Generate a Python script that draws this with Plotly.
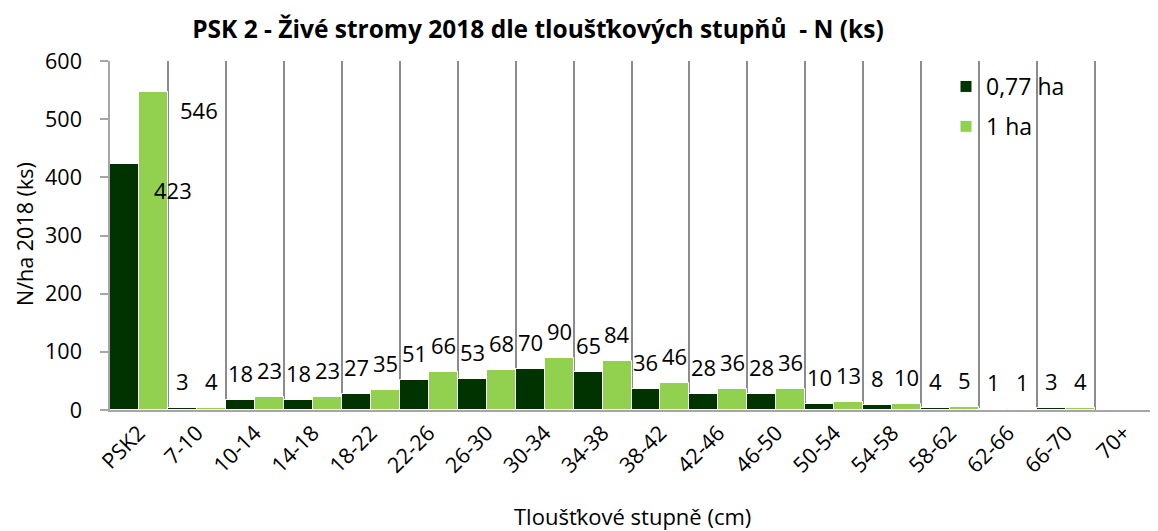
import plotly.graph_objects as go

categories = ["PSK2", "7-10", "10-14", "14-18", "18-22", "22-26", "26-30", "30-34",
              "34-38", "38-42", "42-46", "46-50", "50-54", "54-58", "58-62", "62-66",
              "66-70", "70+"]
n_077 = [423, 3, 18, 18, 27, 51, 53, 70, 65, 36, 28, 28, 10, 8, 4, 1, 3, None]
n_1ha = [546, 4, 23, 23, 35, 66, 68, 90, 84, 46, 36, 36, 13, 10, 5, 1, 4, None]
series_names = ["0,77 ha", "1 ha"]
series_colors = ["#003300", "#92d050"]

FONT = "Open Sans, Noto Sans, sans-serif"
OFF = 8                      # page body margin in the browser
W, H = 1158 - OFF, 531 - OFF
# plot area in page pixels: x 110..1153, y 61..410
PX0, PX1, PY0, PY1 = 110, 1153, 61, 410
ML, MR, MT, MB = PX0 - OFF, W - (PX1 - OFF), PY0 - OFF, H - (PY1 - OFF)


def xp(px):
    return (px - PX0) / (PX1 - PX0)


def yp(py):
    return (PY1 - py) / (PY1 - PY0)


fig = go.Figure()
for name, vals, col in zip(series_names, [n_077, n_1ha], series_colors):
    fig.add_trace(go.Bar(
        x=categories, y=vals, name=name, legendgroup=name,
        marker=dict(color=col, line=dict(color="white", width=1)),
        hoverinfo="x+y+name",
    ))

# data labels: centred above each bar (Excel-like), PSK2 labels pushed to the right
bar_offset = [-14.5, 14.5]
label_shift_default = 27
first_override = [(49, -26), (46, -18)]  # (xshift, yshift) for the PSK2 labels
annotations = []
for si, vals in enumerate([n_077, n_1ha]):
    for ci, (cat, v) in enumerate(zip(categories, vals)):
        if v is None:
            continue
        if ci == 0:
            xs = bar_offset[si] + first_override[si][0]
            ys = first_override[si][1]
        else:
            xs = bar_offset[si]
            ys = label_shift_default
        annotations.append(dict(
            x=cat, y=v, xref="x", yref="y", text=str(v), showarrow=False,
            xshift=xs, yshift=ys, xanchor="center", yanchor="middle",
            font=dict(family=FONT, size=22, color="#000000"),
        ))

# axis titles
annotations.append(dict(
    text="Tloušťkové stupně (cm)", xref="paper", yref="paper",
    x=xp(632), y=yp(516), xanchor="center", yanchor="middle", showarrow=False,
    font=dict(family=FONT, size=22, color="#000000"),
))
annotations.append(dict(
    text="N/ha 2018 (ks)", xref="paper", yref="paper", textangle=-90,
    x=xp(24), y=yp(234), xanchor="center", yanchor="middle", showarrow=False,
    font=dict(family=FONT, size=21.5, color="#000000"),
))

fig.update_layout(
    width=W, height=H,
    margin=dict(l=ML, r=MR, t=MT, b=MB, autoexpand=False),
    paper_bgcolor="white", plot_bgcolor="white",
    barmode="group", bargap=0, bargroupgap=0,
    font=dict(family=FONT, size=22, color="#000000"),
    title=dict(
        text="<b>PSK 2 - Živé stromy 2018 dle tloušťkových stupňů  - N (ks)</b>",
        x=(538 - OFF) / W, xanchor="center", xref="container",
        y=1 - (29 - OFF) / H, yanchor="middle", yref="container",
        font=dict(family=FONT, size=24.5, color="#000000"),
    ),
    legend=dict(
        x=xp(946), xanchor="left",
        y=yp(65), yanchor="top",
        bgcolor="rgba(255,255,255,0)", borderwidth=0,
        font=dict(family=FONT, size=23, color="#000000"),
        traceorder="grouped", tracegroupgap=7,
    ),
    annotations=annotations,
    shapes=[dict(
        type="rect", xref="paper", yref="paper", layer="between",
        x0=xp(900), x1=xp(1110), y0=yp(147), y1=yp(66),
        fillcolor="white", line=dict(width=0),
    )],
    showlegend=True,
)

fig.update_xaxes(
    type="category", tickson="boundaries",
    showgrid=True, gridcolor="#8c8c8c", gridwidth=1.5,
    showline=True, linecolor="#a6a6a6", linewidth=2,
    ticks="", tickangle=-45,
    tickfont=dict(family=FONT, size=21.5, color="#000000"),
)
fig.update_yaxes(
    range=[0, 600], dtick=100, showgrid=False, zeroline=False,
    showline=True, linecolor="#a6a6a6", linewidth=1.5,
    ticks="outside", ticklen=8, tickcolor="#a6a6a6", tickwidth=1.5,
    ticklabelstandoff=14,
    tickfont=dict(family=FONT, size=21.5, color="#000000"),
)

fig.write_html("out.html")
